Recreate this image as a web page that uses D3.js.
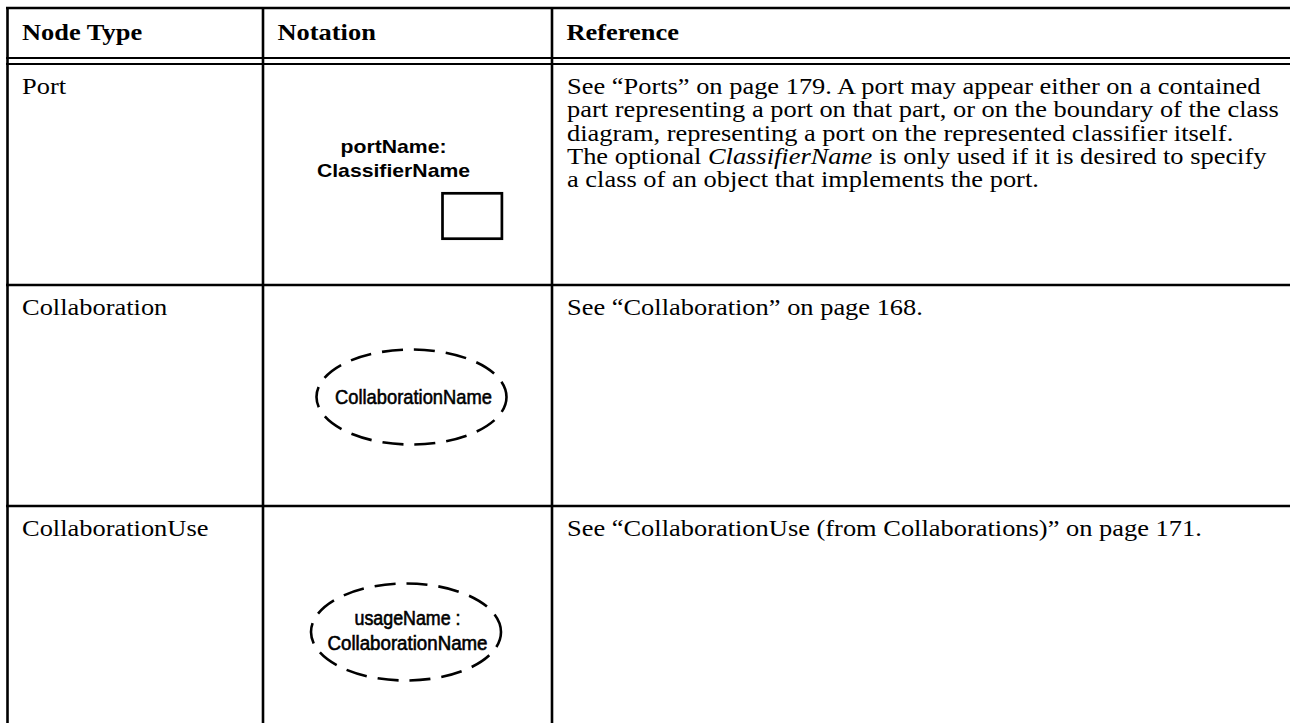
<!DOCTYPE html>
<html><head><meta charset="utf-8">
<script src="https://cdn.jsdelivr.net/npm/d3@7"></script>
<style>html,body{margin:0;padding:0;background:#fff;overflow:hidden}</style>
</head><body>
<script>
// ---- data ----
const columns = ["Node Type", "Notation", "Reference"];
const nodeTypes = ["Port", "Collaboration", "CollaborationUse"];
const notationShapes = ["port", "collaboration", "collaborationUse"];
const notationLabels = [
  ["portName:", "ClassifierName"],
  ["CollaborationName"],
  ["usageName :", "CollaborationName"]
];
const referenceLines = [
  [
    "See “Ports” on page 179. A port may appear either on a contained",
    "part representing a port on that part, or on the boundary of the class",
    "diagram, representing a port on the represented classifier itself.",
    "The optional *ClassifierName* is only used if it is desired to specify",
    "a class of an object that implements the port."
  ],
  ["See “Collaboration” on page 168."],
  ["See “CollaborationUse (from Collaborations)” on page 171."]
];

// ---- layout ----
const W = 1290, H = 723;
const SX = 1.125;          // horizontal stretch of the reference rendering
const FS = 23.5;
const serif = "'Liberation Serif','Times New Roman',Times,serif";
const sans = "'Liberation Sans',Arial,Helvetica,sans-serif";

const svg = d3.select("body").append("svg").attr("width", W).attr("height", H);

const colX = d3.scaleOrdinal().domain(columns).range([7.5, 263, 552]);
const colRight = d3.scaleOrdinal().domain(columns).range([263, 552, 1300]);
const rowY = d3.scaleBand().domain(nodeTypes).range([64, 727]);

const lineW = 2.4;
const g = svg.append("g");

// borders
g.append("line").attr("x1", 6).attr("x2", W + 10).attr("y1", 8).attr("y2", 8)
  .attr("stroke", "#000").attr("stroke-width", 2.4);
[58, 64].forEach(y => g.append("line").attr("x1", 6).attr("x2", W + 10)
  .attr("y1", y).attr("y2", y).attr("stroke", "#000").attr("stroke-width", 2.2));
nodeTypes.slice(1).forEach(n => g.append("line").attr("x1", 6).attr("x2", W + 10)
  .attr("y1", rowY(n)).attr("y2", rowY(n)).attr("stroke", "#000").attr("stroke-width", lineW));
columns.forEach(c => g.append("line").attr("x1", colX(c)).attr("x2", colX(c))
  .attr("y1", 7).attr("y2", H + 10).attr("stroke", "#000").attr("stroke-width", 2.6));

function stretchedText(parent, x, y, family, size, weight) {
  return parent.append("text")
    .attr("transform", `translate(${x},${y}) scale(${SX},1)`)
    .attr("font-family", family).attr("font-size", size)
    .attr("font-weight", weight || "normal").attr("fill", "#000");
}

// header
columns.forEach(c => {
  stretchedText(g, colX(c) + 14.5, 39.5, serif, FS, "bold").text(c);
});

// column 1: node type
nodeTypes.forEach(n => {
  stretchedText(g, colX("Node Type") + 14.5, rowY(n) + 30, serif, FS).text(n);
});

// column 3: reference text, with *italic* segments
referenceLines.forEach((lines, i) => {
  const top = rowY(nodeTypes[i]);
  lines.forEach((ln, j) => {
    const t = stretchedText(g, colX("Reference") + 15, top + 30 + j * 23.3, serif, FS);
    ln.split("*").forEach((seg, k) => {
      t.append("tspan").attr("font-style", k % 2 ? "italic" : "normal").text(seg);
    });
  });
});

// column 2: notation
const cx = (colX("Notation") + colRight("Notation")) / 2;
notationShapes.forEach((shape, i) => {
  const top = rowY(nodeTypes[i]);
  const labels = notationLabels[i];
  if (shape === "port") {
    labels.forEach((lb, j) => {
      g.append("text")
        .attr("transform", `translate(${cx - 14},${top + 88.7 + j * 24.6}) scale(1.14,1)`)
        .attr("text-anchor", "middle").attr("font-family", sans)
        .attr("font-size", 18.6).attr("font-weight", "bold").text(lb);
    });
    g.append("rect").attr("x", cx + 35).attr("y", top + 129.3)
      .attr("width", 59.4).attr("height", 45.4)
      .attr("fill", "none").attr("stroke", "#000").attr("stroke-width", 2.7);
  } else {
    const single = labels.length === 1;
    const ex = single ? cx + 4 : cx - 1.5;
    const ey = single ? top + 112 : top + 126;
    const ry = single ? 47.5 : 48.5;
    g.append("ellipse").attr("cx", ex).attr("cy", ey).attr("rx", 95).attr("ry", ry)
      .attr("fill", "none").attr("stroke", "#000").attr("stroke-width", 2.6)
      .attr("stroke-dasharray", "21,11").attr("stroke-dashoffset", 5);
    const widths = single ? [157] : [106, 160];
    const offs = single ? [6.5] : [-7, 18];
    const sizes = single ? [21] : [19.5, 19.5];
    labels.forEach((lb, j) => {
      g.append("text").attr("x", single ? ex + 2 : ex + 1.5).attr("y", ey + offs[j])
        .attr("text-anchor", "middle").attr("font-family", sans)
        .attr("font-size", sizes[j]).attr("font-weight", "normal")
        .attr("textLength", widths[j]).attr("lengthAdjust", "spacingAndGlyphs")
        .attr("stroke", "#000").attr("stroke-width", 0.6)
        .text(lb);
    });
  }
});
</script>
</body></html>
